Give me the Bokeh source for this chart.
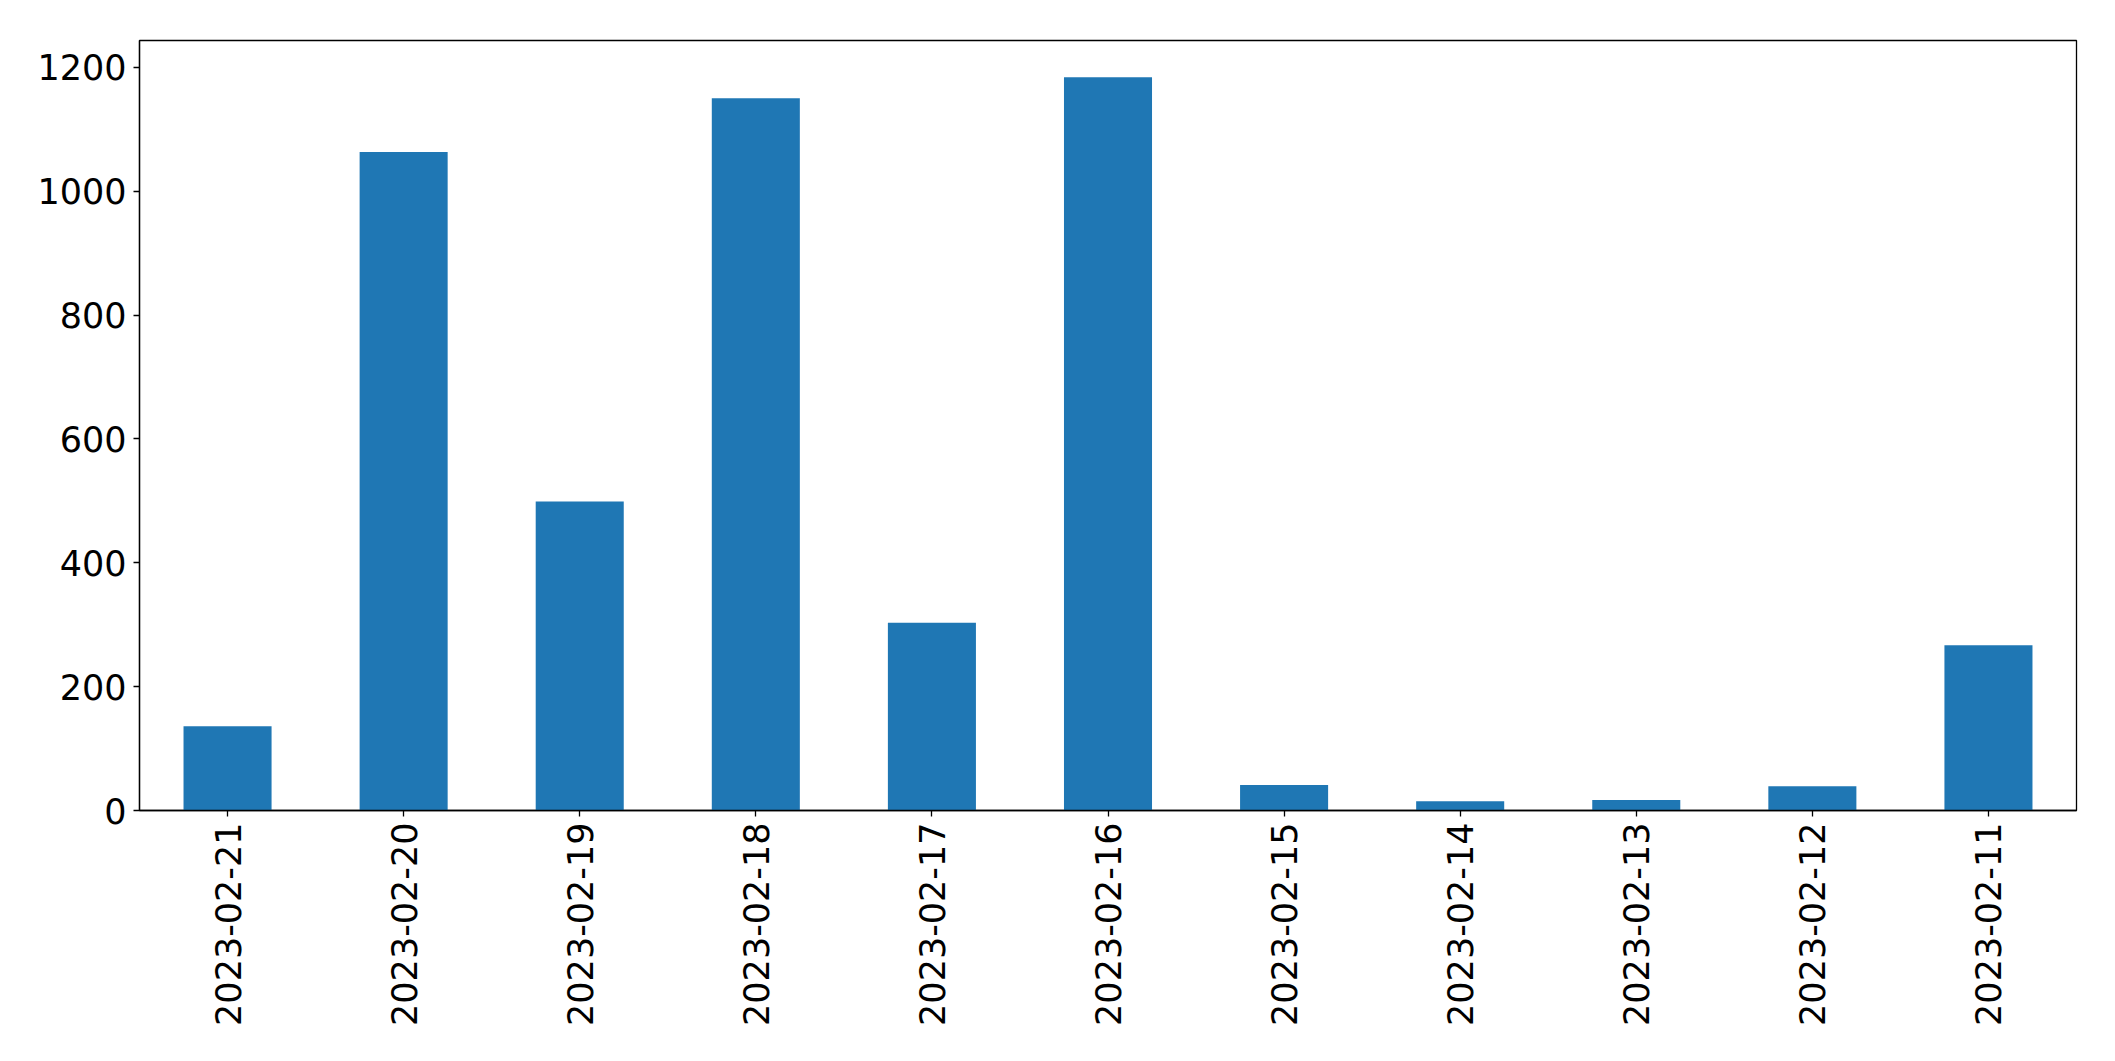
import math
from bokeh.plotting import figure
from bokeh.models import Range1d, FactorRange
from bokeh.embed import file_html
from bokeh.resources import INLINE

dates = ["2023-02-21", "2023-02-20", "2023-02-19", "2023-02-18", "2023-02-17",
         "2023-02-16", "2023-02-15", "2023-02-14", "2023-02-13", "2023-02-12",
         "2023-02-11"]
counts = [136, 1063, 499, 1150, 303, 1184, 41, 15, 17, 39, 267]
y_ticks = [0, 200, 400, 600, 800, 1000, 1200]

p = figure(width=2110, height=1055, output_backend="svg", toolbar_location=None,
           x_range=FactorRange(*dates, range_padding=0),
           y_range=Range1d(0, max(counts) * 1.05))
p.min_border_left = 139
p.min_border_right = 34
p.min_border_top = 40
p.min_border_bottom = 245

p.vbar(x=dates, top=counts, width=0.5, fill_color="#1f77b4", line_color=None)

p.xgrid.visible = False
p.ygrid.visible = False
p.outline_line_color = "black"
p.outline_line_width = 1.3
p.background_fill_color = "white"
p.border_fill_color = "white"

for ax in (p.xaxis, p.yaxis):
    ax.major_label_text_font = "DejaVu Sans"
    ax.major_label_text_font_size = "35px"
    ax.major_label_text_color = "black"
    ax.axis_line_color = "black"
    ax.axis_line_width = 1.3
    ax.major_tick_line_color = "black"
    ax.major_tick_line_width = 1.3
    ax.major_tick_out = 6
    ax.major_tick_in = 0
    ax.minor_tick_line_color = None

p.yaxis.ticker = y_ticks
p.yaxis.major_label_standoff = 7
p.xaxis.major_label_orientation = math.pi / 2
p.xaxis.major_label_standoff = 6

open("out.html", "w").write(file_html(p, INLINE))
